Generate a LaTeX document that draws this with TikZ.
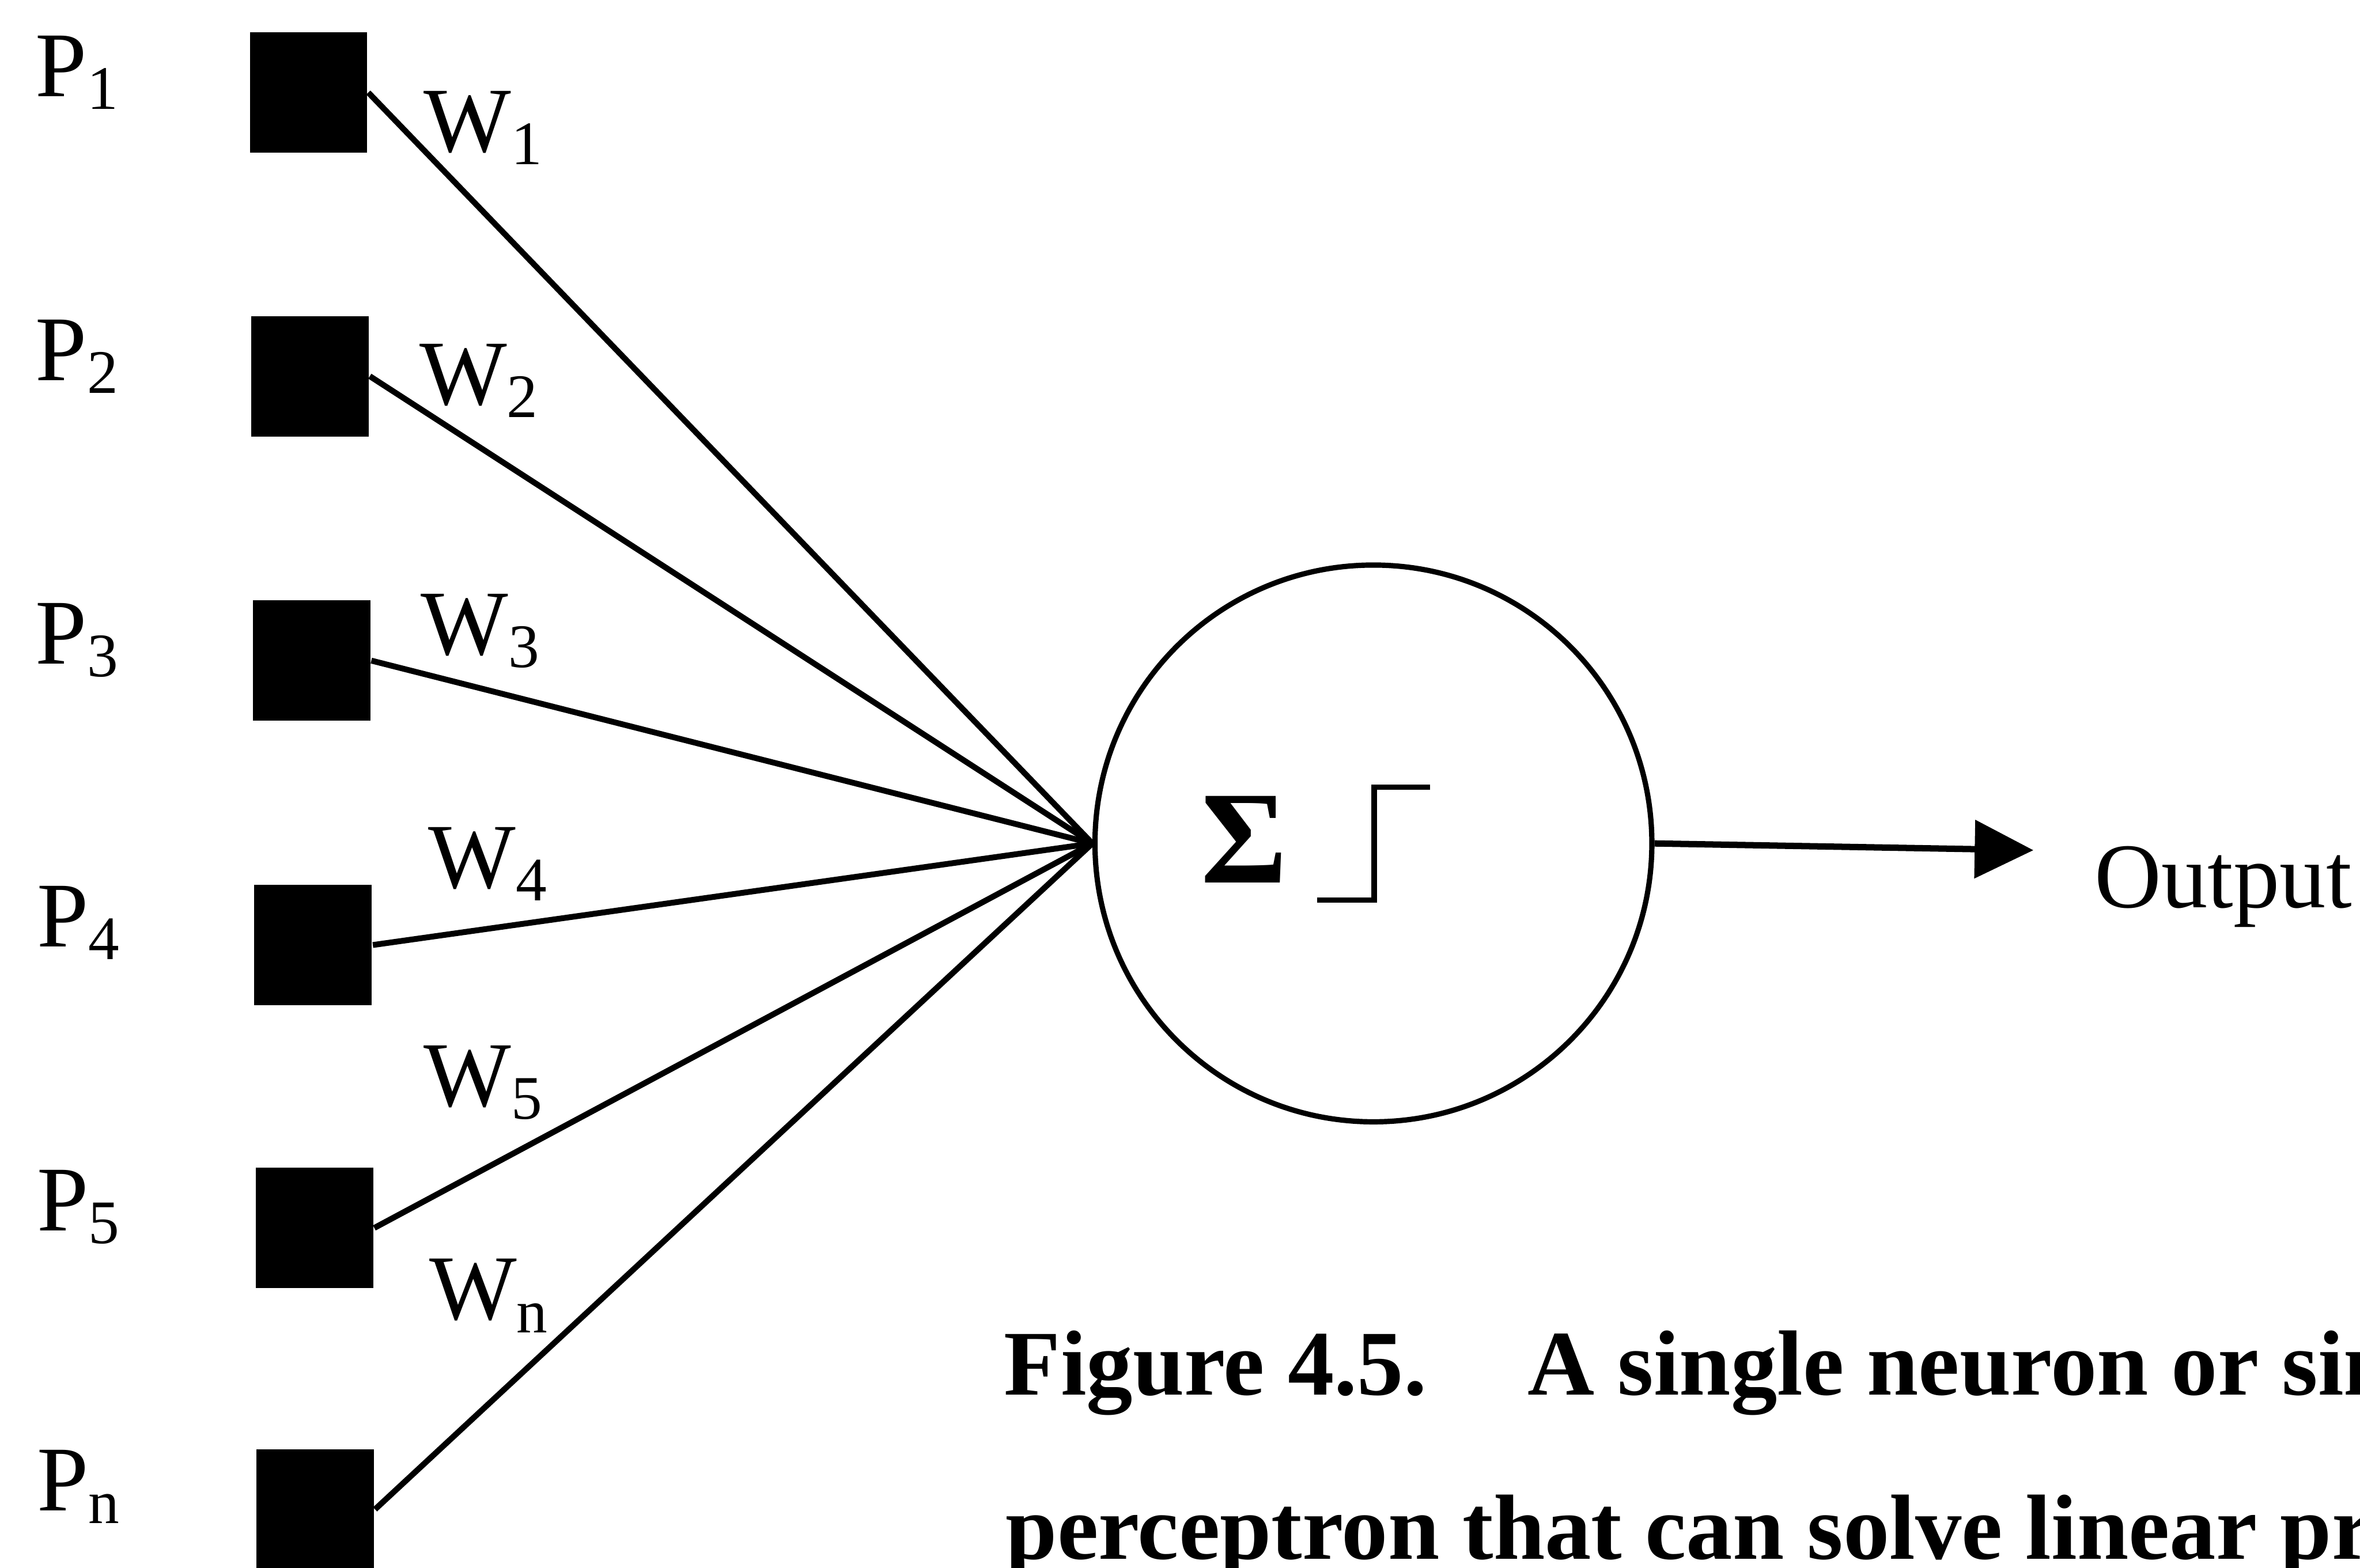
\documentclass[tikz,border=0pt]{standalone}
\usepackage{fontspec}
\setmainfont{Liberation Serif}
\usetikzlibrary{arrows.meta,positioning}
\newcommand{\idx}[1]{\raisebox{-2.4pt}{\fontsize{11.7}{14}\selectfont #1}}

\begin{document}
\begin{tikzpicture}[
    input/.style={rectangle, fill=black, minimum width=0.78cm, minimum height=0.8cm, inner sep=0pt},
    plabel/.style={anchor=base west, inner sep=0pt, font=\fontsize{17.5}{21}\selectfont},
    caption/.style={anchor=base west, inner sep=0pt, font=\fontsize{17.5}{21}\selectfont\bfseries},
    neuron/.style={circle, draw, line width=1pt, minimum size=3.7cm, inner sep=0pt},
    link/.style={line width=1.1pt},
    arrow/.style={-{Triangle[length=3.9mm, width=3.8mm]}, line width=1.2pt}
]

% page frame
\useasboundingbox (0,0) rectangle (15.68,-10.42);
\clip (0,0) rectangle (15.68,-10.42);

% Inputs
\node[input] (p1) at (2.05, -0.615) {};
\node[input] (p2) at (2.06, -2.50) {};
\node[input] (p3) at (2.07, -4.39) {};
\node[input] (p4) at (2.08, -6.28) {};
\node[input] (p5) at (2.09, -8.16) {};
\node[input] (pn) at (2.095, -10.03) {};

\node[plabel] (lp1) at (0.23, -0.64) {P\idx{1}};
\node[plabel] (lp2) at (0.23, -2.53) {P\idx{2}};
\node[plabel] (lp3) at (0.23, -4.41) {P\idx{3}};
\node[plabel] (lp4) at (0.24, -6.29) {P\idx{4}};
\node[plabel] (lp5) at (0.24, -8.18) {P\idx{5}};
\node[plabel] (lpn) at (0.24, -10.04) {P\idx{n}};

% Neuron
\node[neuron] (neuron) at (9.125, -5.605) {};
\node[inner sep=0pt, font=\fontsize{25}{30}\selectfont\bfseries] (sigma) at (8.265, -5.58) {Σ};
\draw[line width=1pt] (8.75, -5.98) -- (9.13, -5.98) -- (9.13, -5.23) -- (9.50, -5.23);

% Weighted links
\draw[link] (p1.east) -- (neuron.west);
\draw[link] (p2.east) -- (neuron.west);
\draw[link] (p3.east) -- (neuron.west);
\draw[link] (p4.east) -- (neuron.west);
\draw[link] (p5.east) -- (neuron.west);
\draw[link] (pn.east) -- (neuron.west);

\node[plabel] (w1) at (2.81, -1.01) {W\idx{1}};
\node[plabel] (w2) at (2.78, -2.69) {W\idx{2}};
\node[plabel] (w3) at (2.79, -4.35) {W\idx{3}};
\node[plabel] (w4) at (2.84, -5.90) {W\idx{4}};
\node[plabel] (w5) at (2.81, -7.35) {W\idx{5}};
\node[plabel] (wn) at (2.845, -8.77) {W\idx{n}};

% Output
\coordinate (out) at (13.51, -5.65);
\draw[arrow] (neuron.east) -- (out);
\node[plabel] (output) at (13.91, -6.03) {Output};

% Caption (cut at the right edge)
\node[caption] (cap1) at (6.665, -9.27) {Figure 4.5.\hspace{0.67cm}A single neuron or sin};
\node[caption] (cap2) at (6.676, -10.36) {perceptron that can solve linear pr};

\end{tikzpicture}
\end{document}
